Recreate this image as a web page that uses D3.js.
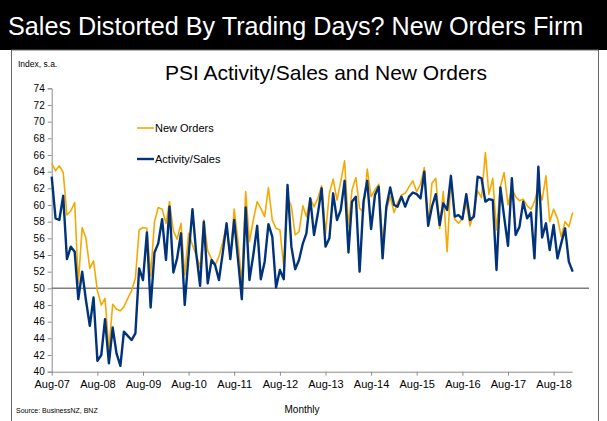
<!DOCTYPE html>
<html>
<head>
<meta charset="utf-8">
<script src="https://cdn.jsdelivr.net/npm/d3@7"></script>
<style>
  html, body { margin: 0; padding: 0; background: #fff; }
  svg { display: block; font-family: "Liberation Sans", Arial, sans-serif; }
</style>
</head>
<body>
<svg id="chart" width="607" height="421"></svg>
<script>
// ---- data (monthly, Aug-2007 .. Jan-2019) ----
const startYear = 2007, startMonth = 7; // Aug 2007 (0-based month)
const newOrders = [
  65.0, 64.1, 64.7, 63.9, 58.8, 59.3, 60.3, 50.6, 57.3, 56.0, 52.4, 53.3,
  49.7, 48.0, 48.8, 42.6, 48.1, 47.5, 47.3, 47.8, 48.8, 49.7, 51.2, 57.0,
  57.3, 57.2, 51.5, 58.0, 59.7, 59.5, 57.8, 60.4, 56.9, 55.9, 57.8, 51.6,
  56.6, 55.2, 54.0, 52.5, 58.2, 54.5, 53.5, 52.8, 53.8, 55.5, 57.6, 53.6,
  59.5, 55.6, 50.6, 61.6, 55.6, 58.2, 60.4, 59.6, 58.6, 62.1, 58.2, 57.2,
  57.0, 52.6, 61.0, 59.8, 56.4, 56.8, 59.9, 58.6, 60.8, 59.8, 60.8, 62.3,
  56.6, 61.4, 63.1, 60.6, 62.8, 65.3, 57.4, 61.8, 63.3, 59.6, 59.2, 64.3,
  61.0, 61.8, 62.5, 55.6, 59.4, 61.0, 59.1, 60.3, 61.2, 61.4, 62.2, 62.9,
  61.6, 62.5, 64.5, 57.6, 62.6, 63.2, 57.2, 61.6, 54.4, 63.2, 58.3, 57.8,
  58.4, 60.2, 57.5, 59.1, 61.7, 60.9, 66.3, 61.3, 63.2, 57.0, 62.2, 63.9,
  60.0, 62.0, 61.0, 60.5, 60.7, 59.9, 59.5, 60.4, 62.2, 60.6, 63.5, 58.0,
  59.5, 58.4, 56.2, 58.0, 57.4, 59.1
];
const activitySales = [
  63.4, 58.4, 58.2, 61.1, 53.5, 55.0, 54.4, 48.7, 52.0, 48.6, 45.5, 48.9,
  41.3, 42.0, 46.3, 41.0, 45.3, 42.2, 40.7, 44.8, 44.3, 43.8, 44.6, 52.4,
  51.0, 56.7, 47.7, 54.3, 55.4, 58.3, 53.4, 59.8, 51.9, 53.6, 56.6, 48.0,
  54.0, 59.5, 54.2, 50.3, 58.0, 50.6, 53.4, 52.8, 51.0, 54.2, 57.8, 53.5,
  58.2, 53.4, 48.7, 59.7, 51.0, 54.0, 57.5, 51.1, 53.2, 57.7, 56.2, 50.1,
  52.2, 51.1, 62.4, 55.0, 52.3, 53.4, 55.4, 56.6, 60.8, 56.4, 59.0, 62.0,
  55.0, 56.0, 61.4, 58.2, 59.4, 62.9, 54.3, 60.4, 61.0, 52.0, 60.4, 62.9,
  57.1, 61.2, 62.2, 53.6, 59.8, 62.1, 60.0, 59.8, 61.0, 59.8, 61.0, 61.5,
  61.3, 60.8, 64.0, 57.5, 59.8, 61.3, 57.6, 60.2, 59.4, 63.5, 58.6, 58.8,
  58.3, 61.3, 58.2, 58.6, 63.4, 63.2, 60.4, 60.7, 60.6, 52.2, 62.1, 58.6,
  55.1, 63.2, 56.4, 57.4, 60.4, 58.4, 59.1, 53.6, 64.6, 56.1, 57.8, 54.6,
  57.6, 53.6, 55.4, 57.2, 53.2, 52.0
];
const xTickLabels = ["Aug-07","Aug-08","Aug-09","Aug-10","Aug-11","Aug-12",
                     "Aug-13","Aug-14","Aug-15","Aug-16","Aug-17","Aug-18"];
const yTicks = [40,42,44,46,48,50,52,54,56,58,60,62,64,66,68,70,72,74];
const seriesNames = ["New Orders", "Activity/Sales"];
const seriesColors = ["#F5A900", "#00337A"];

// ---- build ----
const svg = d3.select("#chart");
const dates = newOrders.map((_, i) => new Date(Date.UTC(startYear, startMonth + i, 1)));
const tickDates = xTickLabels.map((_, k) => new Date(Date.UTC(startYear + k, startMonth, 1)));

const plotLeft = 51.7, plotRight = 572.7, plotTop = 88.3, plotBottom = 371.7;
const x = d3.scaleUtc().domain([dates[0], dates[dates.length - 1]]).range([plotLeft, plotRight]);
const y = d3.scaleLinear().domain([40, 74]).range([plotBottom, plotTop]);

// header band
svg.append("rect").attr("x", 0).attr("y", 0).attr("width", 607).attr("height", 50).attr("fill", "#000");
svg.append("text").attr("x", 8).attr("y", 35).attr("fill", "#fff")
  .attr("font-size", 25.2).text("Sales Distorted By Trading Days? New Orders Firm");

// frame
svg.append("rect").attr("x", 11.5).attr("y", 50).attr("width", 587).attr("height", 372)
  .attr("fill", "none").attr("stroke", "#666").attr("stroke-width", 1);

// subtitle & labels
svg.append("text").attr("x", 326).attr("y", 80).attr("text-anchor", "middle")
  .attr("font-size", 21).attr("fill", "#000").text("PSI Activity/Sales and New Orders");
svg.append("text").attr("x", 18).attr("y", 67).attr("font-size", 8.5).attr("fill", "#000").text("Index, s.a.");
svg.append("text").attr("x", 302).attr("y", 413).attr("text-anchor", "middle")
  .attr("font-size", 10).attr("fill", "#000").text("Monthly");
svg.append("text").attr("x", 16).attr("y", 413).attr("font-size", 7).attr("fill", "#000").text("Source: BusinessNZ, BNZ");

// y axis
const yAxis = svg.append("g").attr("transform", `translate(${plotLeft},0)`)
  .call(d3.axisLeft(y).tickValues(yTicks).tickSize(4).tickPadding(3).tickFormat(d3.format("d")));
yAxis.selectAll("path, line").attr("stroke", "#8c8c8c");
yAxis.selectAll("text").attr("font-size", 10).attr("fill", "#000").attr("font-family", "Liberation Sans, Arial, sans-serif");

// x axis
const xAxis = svg.append("g").attr("transform", `translate(0,${plotBottom})`)
  .call(d3.axisBottom(x).tickValues(tickDates).tickSize(4).tickPadding(5)
        .tickFormat((d, i) => xTickLabels[i]));
xAxis.select(".domain").attr("d", `M${plotLeft},0.5H${plotRight}`);
xAxis.selectAll("path, line").attr("stroke", "#8c8c8c");
xAxis.selectAll("text").attr("font-size", 11).attr("fill", "#000").attr("font-family", "Liberation Sans, Arial, sans-serif");

// 50 reference line
svg.append("line").attr("x1", plotLeft).attr("x2", 589).attr("y1", y(50)).attr("y2", y(50))
  .attr("stroke", "#7f7f7f").attr("stroke-width", 1.5);

// series lines
const line = d3.line().x((d, i) => x(dates[i])).y(d => y(d));
svg.append("path").datum(newOrders).attr("d", line).attr("fill", "none")
  .attr("stroke", seriesColors[0]).attr("stroke-width", 1.6).attr("stroke-linejoin", "round");
svg.append("path").datum(activitySales).attr("d", line).attr("fill", "none")
  .attr("stroke", seriesColors[1]).attr("stroke-width", 2.4).attr("stroke-linejoin", "round");

// legend
const legY = [128, 159];
seriesNames.forEach((name, k) => {
  svg.append("line").attr("x1", 137).attr("x2", 154).attr("y1", legY[k]).attr("y2", legY[k])
    .attr("stroke", seriesColors[k]).attr("stroke-width", k === 0 ? 1.6 : 2.4);
  svg.append("text").attr("x", 155).attr("y", legY[k] + 4).attr("font-size", 11)
    .attr("fill", "#000").text(name);
});
</script>
</body>
</html>
